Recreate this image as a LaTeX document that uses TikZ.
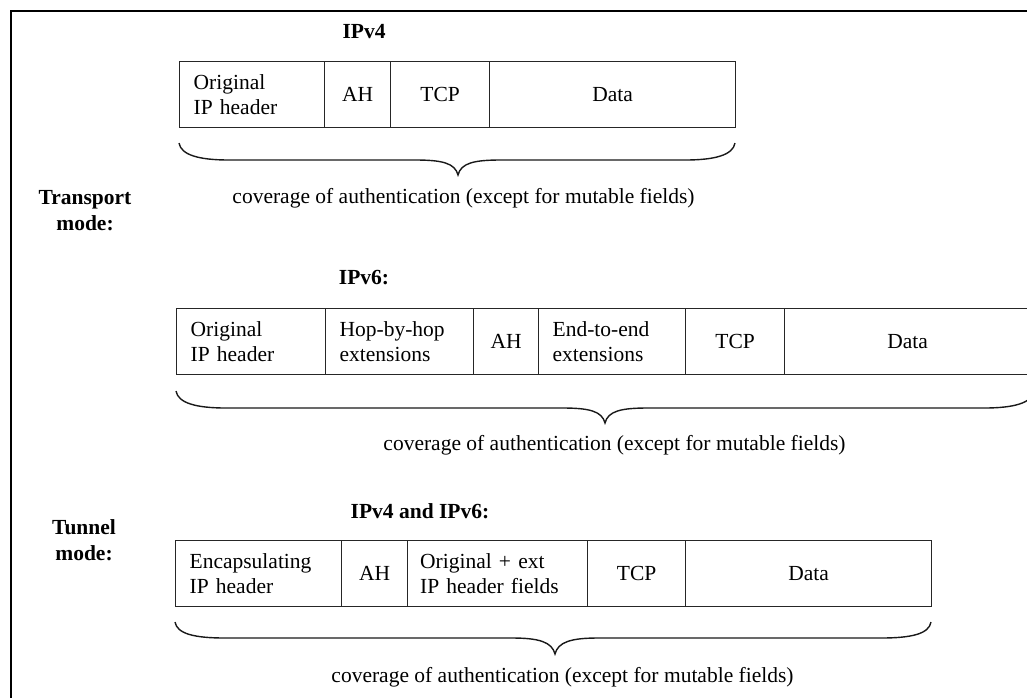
\documentclass[tikz,border=0pt]{standalone}
\usepackage{fontspec}
\setmainfont{Liberation Serif}
\begin{document}
\begin{tikzpicture}[x=1pt,y=-1pt,
  txt/.style={font=\fontsize{21.5}{25.8}\selectfont, inner sep=0pt},
  ttl/.style={font=\fontsize{21.5}{25.8}\selectfont\bfseries, inner sep=0pt, anchor=base},
  cell/.style={draw=black!85, line width=1.3pt, anchor=north west, minimum height=66pt,
    inner ysep=0pt, inner xsep=0pt, font=\fontsize{21.5}{25.8}\selectfont},
  mcell/.style={cell, inner xsep=14pt, align=left},
  brc/.style={line width=1.4pt, black!90},
  frame/.style={line width=2pt}]
\useasboundingbox (0,0) rectangle (1027,697);
\clip (0,0) rectangle (1027,697);

% frame
\coordinate (fbl) at (10.5,705);
\coordinate (ftl) at (10.5,11);
\coordinate (ftr) at (1040,11);
\draw[frame] (fbl) -- (ftl) -- (ftr);

% ---------------- IPv4 transport
\node[ttl] (t4) at (364,38) {IPv4};
\node[mcell, minimum width=145pt, text width=117pt] (a1) at (179,61) {Original\\IP header};
\node[cell, minimum width=66pt] (a2) at (324,61) {AH};
\node[cell, minimum width=99pt] (a3) at (390,61) {TCP};
\node[cell, minimum width=246pt] (a4) at (489,61) {Data};
\draw[brc] (179,143) .. controls (181,155) and (199,160) .. (229,160) -- (415,160)
  .. controls (442,160) and (455,163) .. (458,175)
  .. controls (461,163) and (474,160) .. (501,160) -- (685,160)
  .. controls (715,160) and (733,155) .. (735,143);
\node[txt, anchor=base] (cv1) at (463.5,203) {coverage of authentication (except for mutable fields)};

\node[ttl, align=center] (tm) at (85,230) {Transport\\mode:};

% ---------------- IPv6 transport
\node[ttl] (t6) at (364,284) {IPv6:};
\node[mcell, minimum width=149pt, text width=121pt] (b1) at (176,308) {Original\\IP header};
\node[mcell, minimum width=148pt, text width=120pt] (b2) at (325,308) {Hop-by-hop\\extensions};
\node[cell, minimum width=65pt] (b3) at (473,308) {AH};
\node[mcell, minimum width=147pt, text width=119pt] (b4) at (538,308) {End-to-end\\extensions};
\node[cell, minimum width=99pt] (b5) at (685,308) {TCP};
\node[cell, minimum width=246pt] (b6) at (784,308) {Data};
\draw[brc] (176,391) .. controls (178,403) and (196,408) .. (226,408) -- (562,408)
  .. controls (589,408) and (602,411) .. (605,423)
  .. controls (608,411) and (621,408) .. (648,408) -- (984,408)
  .. controls (1014,408) and (1032,403) .. (1034,391);
\node[txt, anchor=base] (cv2) at (614.5,450) {coverage of authentication (except for mutable fields)};

% ---------------- tunnel
\node[ttl] (t46) at (420,518) {IPv4 and IPv6:};
\node[ttl, align=center] (tn) at (84,560) {Tunnel\\mode:};
\node[mcell, minimum width=166pt, text width=138pt] (c1) at (175,540) {Encapsulating\\IP header};
\node[cell, minimum width=66pt] (c2) at (341,540) {AH};
\node[mcell, minimum width=180pt, text width=155pt, inner xsep=12.5pt] (c3) at (407,540) {Original + ext\\IP header fields};
\node[cell, minimum width=98pt] (c4) at (587,540) {TCP};
\node[cell, minimum width=246pt] (c5) at (685,540) {Data};
\draw[brc] (175,622) .. controls (177,634) and (195,638) .. (225,638) -- (512,638)
  .. controls (539,638) and (552,642) .. (555,654)
  .. controls (558,642) and (571,638) .. (598,638) -- (881,638)
  .. controls (911,638) and (929,634) .. (931,622);
\node[txt, anchor=base] (cv3) at (562.5,682) {coverage of authentication (except for mutable fields)};
\end{tikzpicture}
\end{document}
